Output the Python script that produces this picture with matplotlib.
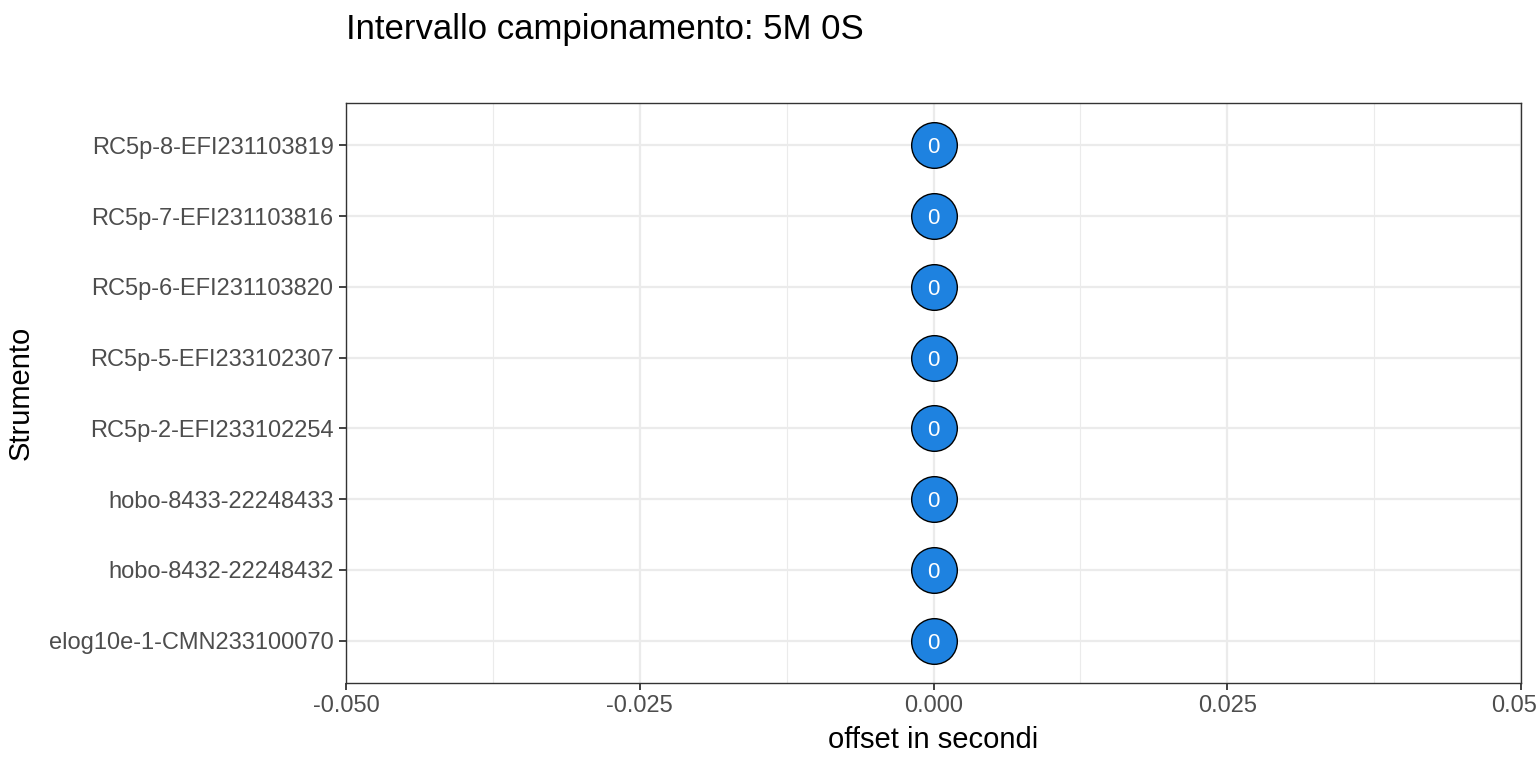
import matplotlib
matplotlib.use("Agg")
import matplotlib.pyplot as plt

plt.rcParams['font.family'] = ['Liberation Sans', 'DejaVu Sans']

instruments = ["elog10e-1-CMN233100070", "hobo-8432-22248432", "hobo-8433-22248433",
               "RC5p-2-EFI233102254", "RC5p-5-EFI233102307", "RC5p-6-EFI231103820",
               "RC5p-7-EFI231103816", "RC5p-8-EFI231103819"]
offsets = [0, 0, 0, 0, 0, 0, 0, 0]
xticks = [-0.05, -0.025, 0.0, 0.025, 0.05]
xticklabels = ["-0.050", "-0.025", "0.000", "0.025", "0.050"]
minor_xticks = [-0.0375, -0.0125, 0.0125, 0.0375]

fig = plt.figure(figsize=(15.36, 7.68), dpi=100)
ax = fig.add_axes([346/1536, 1-683/768, (1521-346)/1536, (683-103)/768])

ypos = list(range(1, len(instruments)+1))
grid_c = "#EBEBEB"
for x in minor_xticks:
    ax.axvline(x, color=grid_c, lw=0.8, zorder=0)
for x in xticks:
    ax.axvline(x, color=grid_c, lw=1.6, zorder=0)
for y in ypos:
    ax.axhline(y, color=grid_c, lw=1.6, zorder=0)

ax.scatter(offsets, ypos, s=1080, color="#1E82E0", edgecolor="black", linewidth=1.0, zorder=3)
for x, y, v in zip(offsets, ypos, offsets):
    ax.text(x, y, str(v), color="white", fontsize=16, ha="center", va="center_baseline", zorder=4)

ax.set_xlim(-0.05, 0.05)
ax.set_ylim(0.4, len(instruments)+0.6)
ax.set_xticks(xticks)
ax.set_xticklabels(xticklabels)
ax.set_yticks(ypos)
ax.set_yticklabels(instruments)
ax.tick_params(axis='both', length=5, width=1.3, color="#333333", labelcolor="#4D4D4D", labelsize=17, pad=4)
for sp in ax.spines.values():
    sp.set_color("#333333")
    sp.set_linewidth(1.0)

ax.set_xlabel("offset in secondi", fontsize=21, color="black", labelpad=6)
ax.set_ylabel("Strumento", fontsize=21, color="black", labelpad=10)
fig.text(346/1536, 1-30/768, "Intervallo campionamento: 5M 0S", fontsize=25, ha="left", va="center")

fig.savefig("out.png", dpi=100)
